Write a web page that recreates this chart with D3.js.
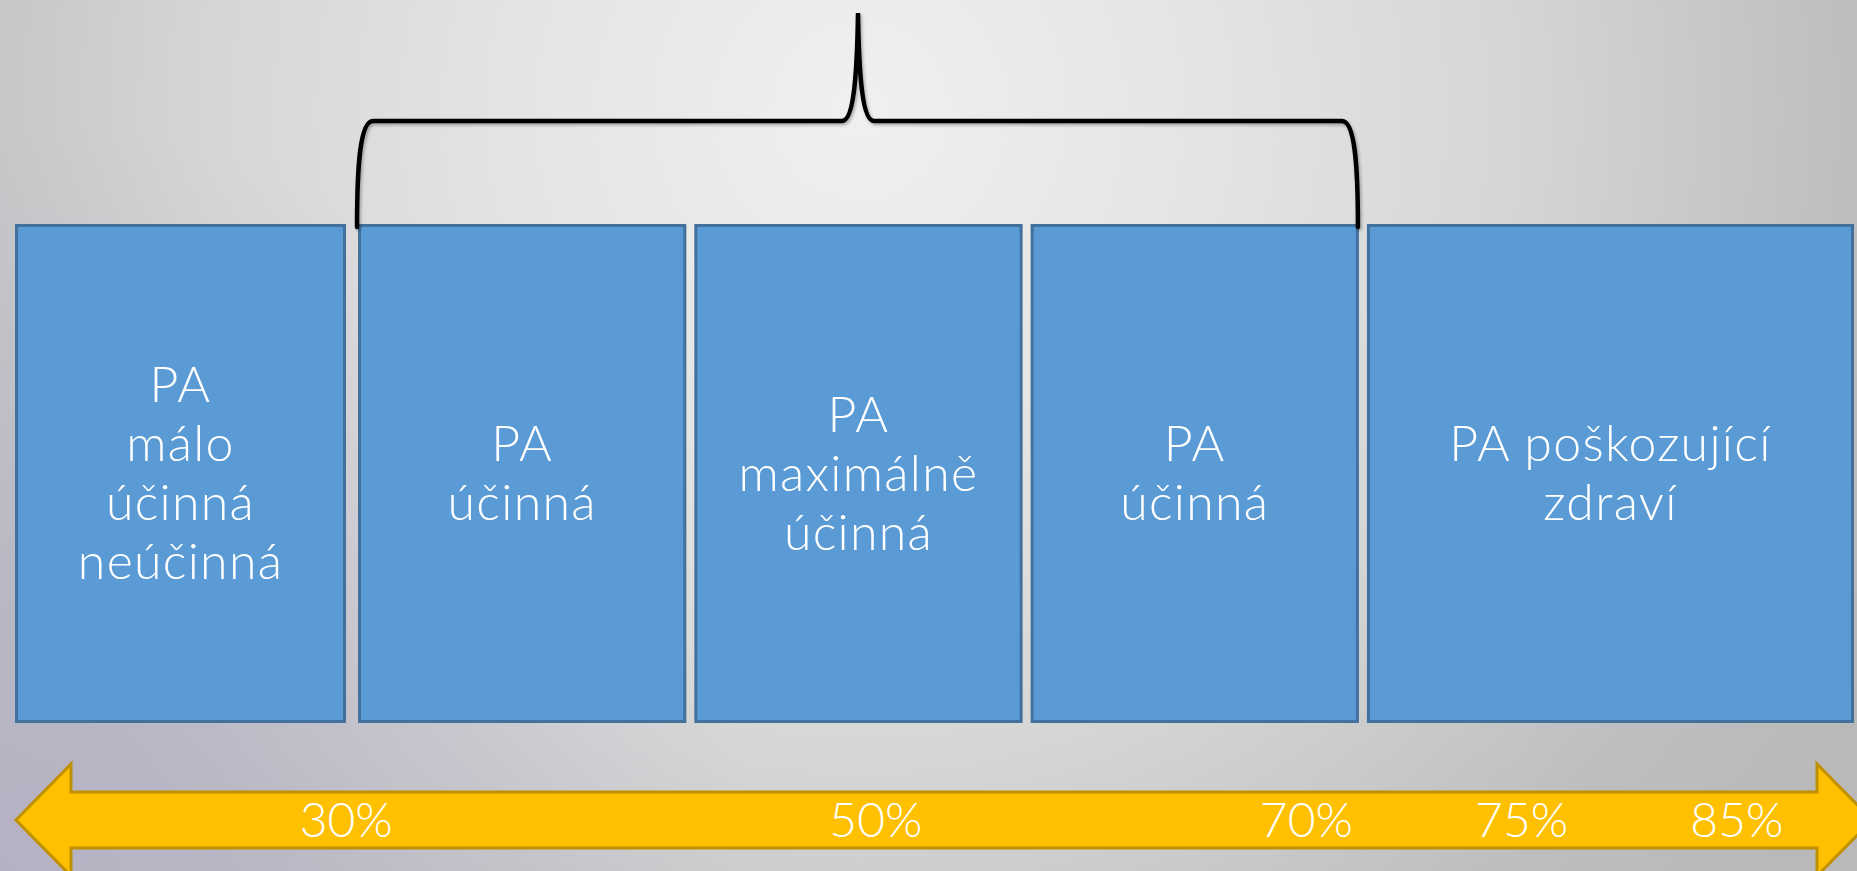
<!DOCTYPE html>
<html><head><meta charset="utf-8">
<script src="https://cdn.jsdelivr.net/npm/d3@7/dist/d3.min.js"></script>
<style>html,body{margin:0;padding:0;overflow:hidden;background:#ccc}svg{display:block}</style>
</head><body>
<script>
// ---- data ----
const boxLabels = [
  ["PA", "málo", "účinná", "neúčinná"],
  ["PA", "účinná"],
  ["PA", "maximálně", "účinná"],
  ["PA", "účinná"],
  ["PA poškozující", "zdraví"]
];
const boxWeights = [1.02, 1, 1, 1, 1.5];
const percentTicks = [30, 50, 70, 75, 85];
const percentLabels = percentTicks.map(d => d + "%");
const bracedBoxes = [1, 3]; // first and last box covered by the brace

// ---- layout ----
const W = 1857, H = 871;
const svg = d3.select("body").append("svg").attr("width", W).attr("height", H);
const defs = svg.append("defs");
const bg = defs.append("radialGradient").attr("id", "bg")
  .attr("gradientUnits", "userSpaceOnUse").attr("cx", 860).attr("cy", 110).attr("r", 1180);
[[0, "#f0f0f0"], [0.3, "#e4e4e4"], [0.55, "#d6d6d6"], [0.72, "#c8c8c9"], [0.84, "#bdbec0"], [1, "#b9b9b9"]]
  .forEach(([o, c]) => bg.append("stop").attr("offset", o).attr("stop-color", c));
const sh = defs.append("filter").attr("id", "sh").attr("x", "-5%").attr("y", "-5%").attr("width", "110%").attr("height", "110%");
sh.append("feDropShadow").attr("dx", 1.5).attr("dy", 2).attr("stdDeviation", 1.8).attr("flood-color", "#000").attr("flood-opacity", 0.3);

svg.append("rect").attr("width", W).attr("height", H).attr("fill", "url(#bg)");
const tint = defs.append("radialGradient").attr("id", "tint").attr("gradientUnits", "userSpaceOnUse")
  .attr("cx", 0).attr("cy", 871).attr("r", 750);
tint.append("stop").attr("offset", "0").attr("stop-color", "#b4aec8").attr("stop-opacity", 0.7);
tint.append("stop").attr("offset", "1").attr("stop-color", "#b4aec8").attr("stop-opacity", 0);
svg.append("rect").attr("width", W).attr("height", H).attr("fill", "url(#tint)");

const cum = [0];
boxWeights.forEach((w, i) => cum.push(cum[i] + w));
const x = d3.scaleLinear().domain([0, cum[cum.length - 1]]).range([15, 15 + 336.3 * cum[cum.length - 1]]);
const gap = 8;
const boxTop = 224, boxBot = 723;
const boxes = boxLabels.map((lab, i) => ({
  lab, x0: x(cum[i]), x1: Math.min(x(cum[i + 1]) - gap, 1854)
}));
boxes[0].x1 -= 4;

const font = "'Lato', 'Noto Sans', sans-serif";
const gBoxes = svg.append("g");
const bg2 = gBoxes.selectAll("g").data(boxes).join("g");
bg2.append("rect")
  .attr("x", d => d.x0 + 1.5).attr("y", boxTop + 1.5)
  .attr("width", d => d.x1 - d.x0 - 3).attr("height", boxBot - boxTop - 3)
  .attr("fill", "#5b9bd5").attr("stroke", "#41719c").attr("stroke-width", 3);
const lineH = 59;
bg2.each(function(d) {
  const n = d.lab.length;
  const cx = (d.x0 + d.x1) / 2;
  const cy = (boxTop + boxBot) / 2;
  d3.select(this).selectAll("text").data(d.lab).join("text")
    .attr("x", cx)
    .attr("y", (t, j) => cy + (j - (n - 1) / 2) * lineH + 17)
    .attr("text-anchor", "middle")
    .attr("fill", "#fff")
    .attr("font-family", font).attr("font-weight", 300)
    .attr("font-size", 50).attr("letter-spacing", 1.3)
    .text(t => t);
});

// ---- brace ----
const bL = boxes[bracedBoxes[0]].x0 - 1, bR = boxes[bracedBoxes[1]].x1 - 1;
const tipX = 858, bY = 121, tipY = 13, legY = 227;
const brace = `M${bL},${legY} C${bL},${bY + 45} ${bL + 3},${bY} ${bL + 16},${bY}
  L${tipX - 16},${bY} C${tipX - 5},${bY} ${tipX - 1},${bY - 40} ${tipX},${tipY}
  C${tipX + 1},${bY - 40} ${tipX + 5},${bY} ${tipX + 16},${bY}
  L${bR - 16},${bY} C${bR - 3},${bY} ${bR},${bY + 45} ${bR},${legY}`;
svg.append("path").attr("d", brace).attr("fill", "none").attr("stroke", "#000")
  .attr("stroke-width", 4.5).attr("stroke-linecap", "round").attr("filter", "url(#sh)");

// ---- double arrow ----
const aL = 16, aR = 1872, aCy = 820, headW = 55, headH = 56, shaftH = 28;
const arrow = [
  [aL, aCy], [aL + headW, aCy - headH], [aL + headW, aCy - shaftH], [aR - headW, aCy - shaftH],
  [aR - headW, aCy - headH], [aR, aCy], [aR - headW, aCy + headH], [aR - headW, aCy + shaftH],
  [aL + headW, aCy + shaftH], [aL + headW, aCy + headH]
];
svg.append("path").attr("d", d3.line()(arrow) + "Z")
  .attr("fill", "#ffc000").attr("stroke", "#bf9000").attr("stroke-width", 3).attr("stroke-linejoin", "miter");

// percent scale: anchors expressed in box units
const px = d3.scaleLinear().domain(percentTicks)
  .range([0.985, 2.56, 3.84, 4.48, 5.12].map(u => x(u)));
svg.append("g").selectAll("text").data(percentTicks).join("text")
  .attr("x", d => px(d)).attr("y", aCy + 17)
  .attr("text-anchor", "middle").attr("fill", "#fff")
  .attr("font-family", font).attr("font-weight", 300).attr("font-size", 48)
  .text((d, i) => percentLabels[i]);
</script>
</body></html>
